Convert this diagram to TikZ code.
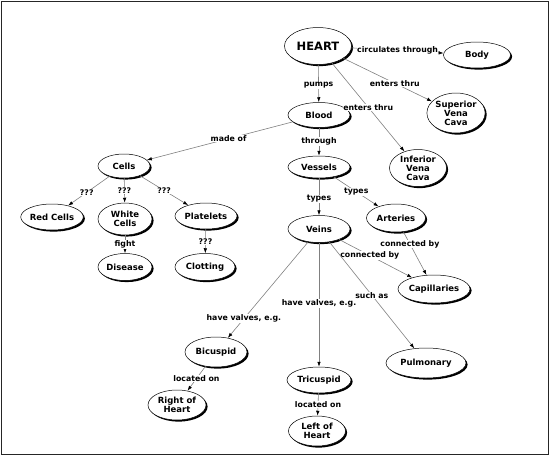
\documentclass[tikz,border=0pt]{standalone}
\usepackage{fontspec}
\setmainfont{DejaVu Sans}
\usetikzlibrary{shapes.geometric,shadows,arrows.meta}
\begin{document}
\begin{tikzpicture}[x=1pt, y=-1pt,
  concept/.style={ellipse, draw=black, line width=0.5pt, fill=white, inner sep=0pt, align=center,
    font=\bfseries\fontsize{8.5}{9}\selectfont,
    drop shadow={shadow xshift=1.6pt, shadow yshift=-1.6pt, fill=black, opacity=1}},
  esz/.style 2 args={minimum width=#1pt, minimum height=#2pt},
  link/.style={draw=gray, line width=0.6pt, -{Latex[length=5pt, width=3.5pt, color=black]}},
  lbl/.style={fill=white, inner sep=0.5pt, font=\bfseries\fontsize{7.8}{8}\selectfont}]
\useasboundingbox (0,0) rectangle (550,456);
% Rahmen
\draw[line width=1.5pt, black!85] (1.5,1.5) rectangle (548.5,454.5);
% Begriffe
\node[concept, esz={67}{37}, font=\bfseries\fontsize{11.5}{12}\selectfont] (heart) at (318,46) {HEART};
\node[concept, esz={67}{26}] (body)     at (477,55)  {Body};
\node[concept, esz={53}{40}] (superior) at (456,113) {Superior\\Vena\\Cava};
\node[concept, esz={62}{25}] (blood)    at (319,115) {Blood};
\node[concept, esz={57}{37}] (inferior) at (418,168) {Inferior\\Vena\\Cava};
\node[concept, esz={62}{22}] (vessels)  at (319,167) {Vessels};
\node[concept, esz={59}{28}] (arteries) at (396,218) {Arteries};
\node[concept, esz={62}{27}] (veins)    at (319,229) {Veins};
\node[concept, esz={72}{28}] (capil)    at (434,289) {Capillaries};
\node[concept, esz={52}{24}] (cells)    at (124,166) {Cells};
\node[concept, esz={61}{26}] (red)      at (52,217)  {Red Cells};
\node[concept, esz={54}{32}] (white)    at (125,219) {White\\Cells};
\node[concept, esz={62}{26}] (platelet) at (206,216) {Platelets};
\node[concept, esz={54}{27}] (disease)  at (125,267) {Disease};
\node[concept, esz={60}{27}] (clotting) at (205,267) {Clotting};
\node[concept, esz={62}{30}] (bicuspid) at (216,352) {Bicuspid};
\node[concept, esz={58}{30}] (rightH)   at (177,405) {Right of\\Heart};
\node[concept, esz={64}{26}] (tricusp)  at (319,380) {Tricuspid};
\node[concept, esz={57}{30}] (leftH)    at (317,431) {Left of\\Heart};
\node[concept, esz={80}{30}] (pulmo)    at (426,363) {Pulmonary};
% Verbindungen
\draw[link] (heart) -- node[lbl, pos=0.5]  {circulates through} (body);
\draw[link] (heart) -- node[lbl, pos=0.58] {enters thru} (superior);
\draw[link] (heart) -- node[lbl, pos=0.5]  {enters thru} (inferior);
\draw[link] (heart) -- node[lbl, pos=0.55] {pumps} (blood);
\draw[link] (blood) -- node[lbl, pos=0.44] {made of} (cells);
\draw[link] (blood) -- node[lbl, pos=0.5]  {through} (vessels);
\draw[link] (vessels) -- node[lbl, pos=0.55] {types} (veins);
\draw[link] (vessels) -- node[lbl, pos=0.5]  {types} (arteries);
\draw[link] (cells) -- node[lbl, pos=0.55] {???} (red);
\draw[link] (cells) -- node[lbl, pos=0.5]  {???} (white);
\draw[link] (cells) -- node[lbl, pos=0.5]  {???} (platelet);
\draw[link] (white) -- node[lbl, pos=0.5] {fight} (disease);
\draw[link] (platelet) -- node[lbl, pos=0.5] {???} (clotting);
\draw[link] (arteries) -- node[lbl, pos=0.28] {connected by} (capil);
\draw[link] (veins) -- node[lbl, pos=0.42] {connected by} (capil);
\draw[link] (veins) -- node[lbl, pos=0.8]  {have valves, e.g.} (bicuspid);
\draw[link] (veins) -- node[lbl, pos=0.49] {have valves, e.g.} (tricusp);
\draw[link] (veins) -- node[lbl, pos=0.5]  {such as} (pulmo);
\draw[link] (bicuspid) -- node[lbl, pos=0.5] {located on} (rightH);
\draw[link] (tricusp) -- node[lbl, pos=0.5] {located on} (leftH);
\end{tikzpicture}
\end{document}
